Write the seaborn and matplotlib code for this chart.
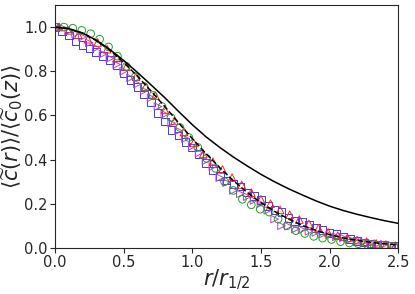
import numpy as np
import pandas as pd
import matplotlib
matplotlib.use("Agg")
import matplotlib.pyplot as plt
import seaborn as sns

# blue squares
r_sq = [0.00, 0.05, 0.10, 0.15, 0.20, 0.25, 0.30, 0.35, 0.40, 0.45,
        0.50, 0.55, 0.60, 0.65, 0.70, 0.75, 0.80, 0.85, 0.90, 0.95,
        1.00, 1.05, 1.10, 1.15, 1.20, 1.25, 1.30, 1.35, 1.40, 1.45,
        1.50, 1.55, 1.60, 1.65, 1.70, 1.75, 1.80, 1.85, 1.90, 1.95,
        2.00, 2.05, 2.10, 2.15, 2.20, 2.25, 2.30, 2.35, 2.40, 2.45, 2.50]
c_sq = [1.000, 0.980, 0.962, 0.935, 0.918, 0.903, 0.886, 0.870, 0.852, 0.828,
        0.790, 0.760, 0.728, 0.695, 0.660, 0.610, 0.572, 0.535, 0.508, 0.480,
        0.455, 0.425, 0.385, 0.350, 0.325, 0.305, 0.290, 0.278, 0.250, 0.235,
        0.217, 0.190, 0.172, 0.162, 0.135, 0.122, 0.117, 0.104, 0.090, 0.080,
        0.068, 0.062, 0.052, 0.040, 0.030, 0.025, 0.019, 0.016, 0.014, 0.011, 0.009]

# magenta right triangles (same radii as the squares)
c_tr = [1.000, 0.998, 0.982, 0.970, 0.955, 0.928, 0.905, 0.878, 0.858, 0.830,
        0.800, 0.770, 0.742, 0.712, 0.680, 0.640, 0.605, 0.565, 0.530, 0.495,
        0.460, 0.430, 0.395, 0.368, 0.318, 0.295, 0.260, 0.245, 0.232, 0.215,
        0.200, 0.170, 0.130, 0.100, 0.098, 0.085, 0.082, 0.075, 0.070, 0.062,
        0.058, 0.050, 0.045, 0.038, 0.030, 0.027, 0.022, 0.019, 0.016, 0.012, 0.008]

# red up triangles
r_up = [0.03, 0.10, 0.17, 0.24, 0.31, 0.38, 0.45, 0.52, 0.59, 0.66,
        0.73, 0.80, 0.87, 0.94, 1.01, 1.08, 1.15, 1.22, 1.29, 1.36,
        1.43, 1.50, 1.57, 1.64, 1.71, 1.78, 1.85, 1.92, 1.99, 2.06,
        2.13, 2.20, 2.27, 2.34, 2.41, 2.48]
c_up = [1.000, 0.985, 0.965, 0.945, 0.930, 0.900, 0.860, 0.820, 0.775, 0.730,
        0.690, 0.625, 0.575, 0.525, 0.475, 0.425, 0.390, 0.355, 0.318, 0.285,
        0.250, 0.220, 0.200, 0.172, 0.150, 0.128, 0.108, 0.090, 0.070, 0.055,
        0.045, 0.035, 0.028, 0.020, 0.015, 0.010]

# green circles
r_ci = [0.000, 0.065, 0.130, 0.195, 0.260, 0.325, 0.390, 0.455, 0.520, 0.585,
        0.650, 0.715, 0.780, 0.845, 0.910, 0.975, 1.040, 1.105, 1.170, 1.235,
        1.300, 1.365, 1.430, 1.495, 1.560, 1.625, 1.690, 1.755, 1.820, 1.885,
        1.950, 2.015, 2.080, 2.145, 2.210, 2.275, 2.340, 2.405, 2.470]
c_ci = [1.000, 1.000, 0.995, 0.985, 0.970, 0.945, 0.910, 0.868, 0.822, 0.775,
        0.730, 0.690, 0.640, 0.590, 0.545, 0.500, 0.455, 0.405, 0.360, 0.300,
        0.260, 0.220, 0.195, 0.175, 0.162, 0.130, 0.100, 0.078, 0.065, 0.052,
        0.044, 0.038, 0.028, 0.022, 0.018, 0.014, 0.011, 0.008, 0.006]

# curves
r_line = [0.0, 0.1, 0.2, 0.3, 0.4, 0.5, 0.6, 0.7, 0.8, 0.9, 1.0, 1.1, 1.2,
          1.3, 1.4, 1.5, 1.6, 1.7, 1.8, 1.9, 2.0, 2.1, 2.2, 2.3, 2.4, 2.5]
c_gauss = [1.000, 0.993, 0.973, 0.939, 0.895, 0.840, 0.778, 0.710, 0.640, 0.567,
           0.495, 0.427, 0.363, 0.304, 0.251, 0.205, 0.165, 0.131, 0.102, 0.079,
           0.060, 0.045, 0.034, 0.025, 0.018, 0.013]
c_slow = [1.000, 0.993, 0.973, 0.941, 0.898, 0.849, 0.795, 0.738, 0.680, 0.618,
          0.558, 0.503, 0.455, 0.411, 0.371, 0.333, 0.299, 0.268, 0.240, 0.213,
          0.189, 0.169, 0.152, 0.137, 0.123, 0.111]

sns.set_style("ticks")
plt.rcParams["font.family"] = ["DejaVu Sans"]

fig = plt.figure(figsize=(4.15, 2.94), dpi=100)
ax = fig.add_axes([0.1325, 0.157, 0.827, 0.826])

mk = dict(s=30, linewidth=0.7, facecolor="none", legend=False, ax=ax)
sns.scatterplot(x=r_sq, y=c_sq, marker="s", edgecolor="#3a3aff", **mk)
sns.scatterplot(x=r_sq, y=c_tr, marker=">", edgecolor="#c040d8", **mk)
sns.scatterplot(x=r_up, y=c_up, marker="^", edgecolor="#ff2020", **mk)
sns.scatterplot(x=r_ci, y=c_ci, marker="o", edgecolor="#20a020", **mk)

sns.lineplot(x=r_line, y=c_gauss, color="black", linestyle="--", linewidth=1.1, ax=ax)
sns.lineplot(x=r_line, y=c_slow, color="black", linestyle="-", linewidth=1.1, ax=ax)

ax.set_xlim(0, 2.5)
ax.set_ylim(0, 1.1)
ax.set_xticks([0.0, 0.5, 1.0, 1.5, 2.0, 2.5])
ax.set_yticks([0.0, 0.2, 0.4, 0.6, 0.8, 1.0])
ax.tick_params(labelsize=10.5, length=3.5, width=0.8, pad=2)
for s in ax.spines.values():
    s.set_linewidth(0.8)

ax.set_xlabel(r"$r/r_{1/2}$", fontsize=15, labelpad=-2)
ax.set_ylabel(r"$\langle\widetilde{c}(r)\rangle/\langle\widetilde{c}_0(z)\rangle$", fontsize=15, labelpad=-1)

fig.savefig("out.png", dpi=100)
